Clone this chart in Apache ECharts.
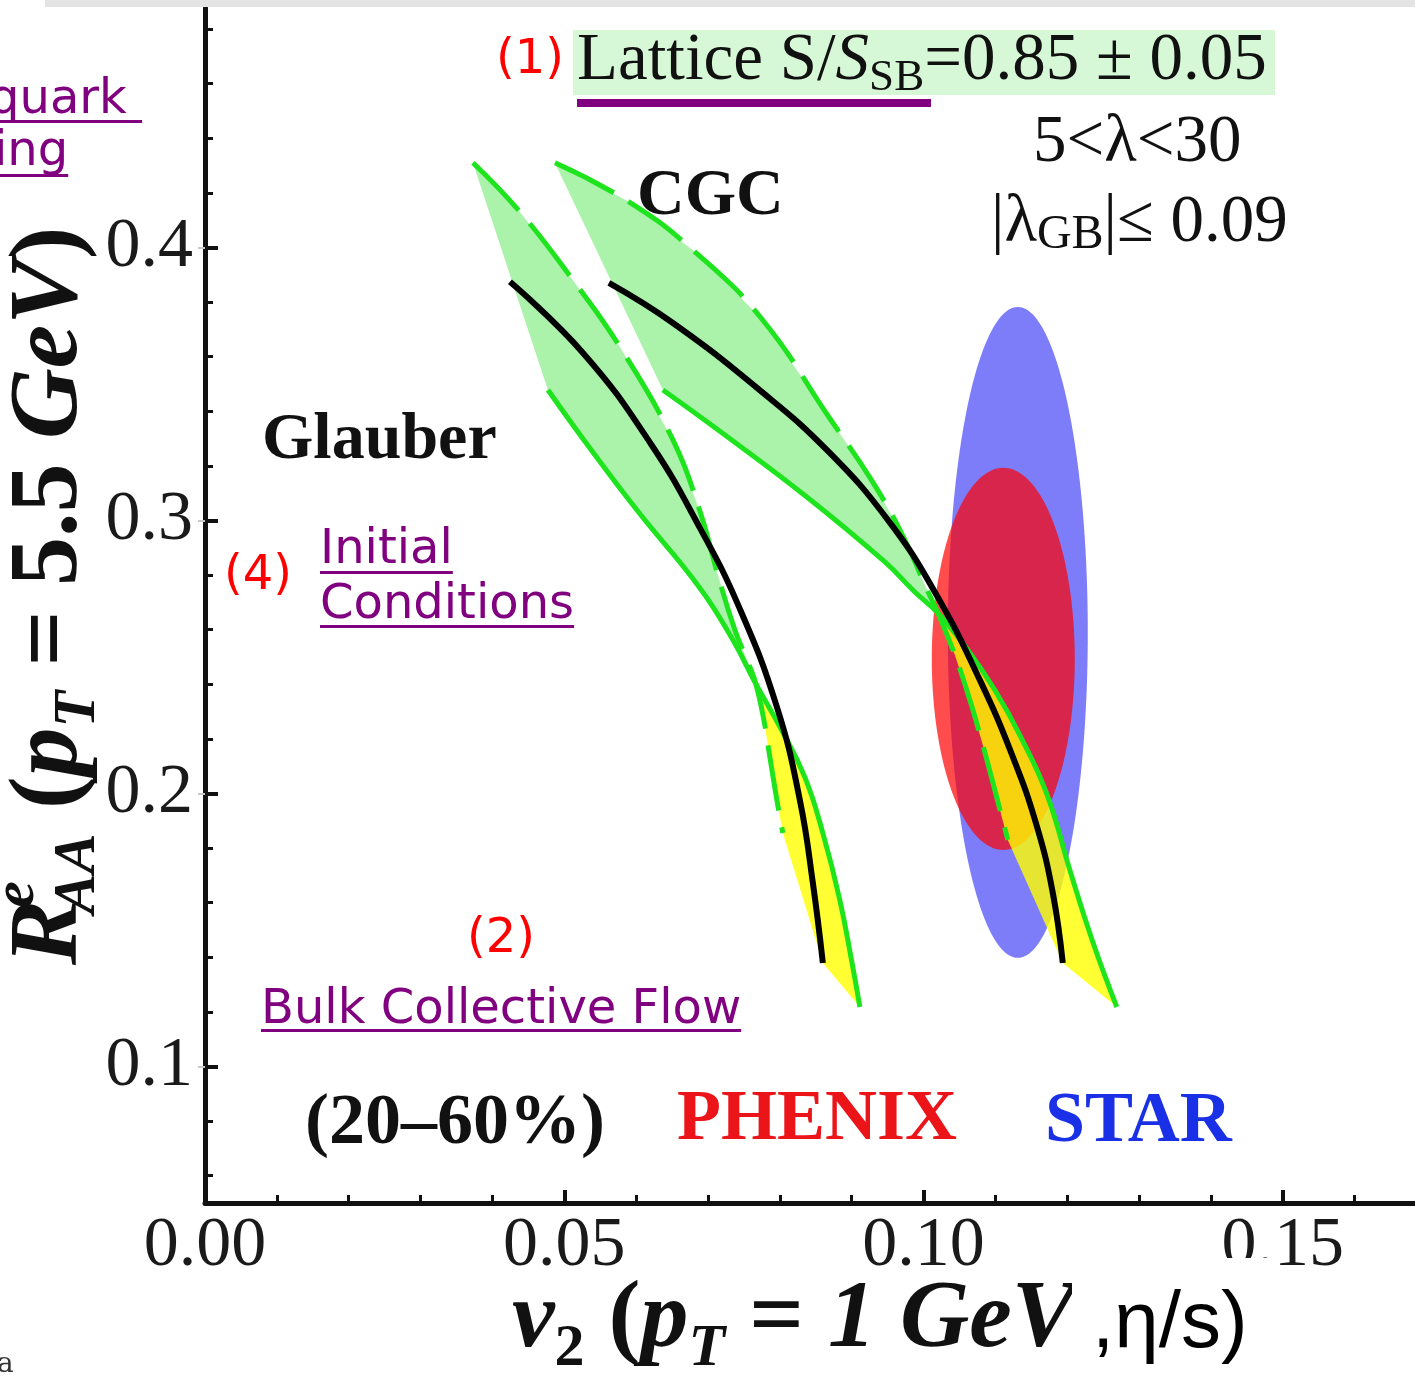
<!DOCTYPE html>
<html><head><meta charset="utf-8">
<script src="https://cdn.jsdelivr.net/npm/echarts@6/dist/echarts.min.js"></script>
<style>html,body{margin:0;padding:0;background:#fff;overflow:hidden}#chart{width:1415px;height:1376px}</style>
</head><body><div id="chart"></div>
<script>
// ---------- axis ranges and ticks ----------
const xRange = [0, 0.1684];
const yRange = [0.05, 0.4877];
const xMajorTicks = [0.00, 0.05, 0.10, 0.15];
const xMinorTicks = [0.01, 0.02, 0.03, 0.04, 0.06, 0.07, 0.08, 0.09, 0.11, 0.12, 0.13, 0.14, 0.16];
const yMajorTicks = [0.1, 0.2, 0.3, 0.4];
const yMinorTicks = [0.06, 0.08, 0.12, 0.14, 0.16, 0.18, 0.22, 0.24, 0.26, 0.28, 0.32, 0.34, 0.36, 0.38, 0.42, 0.44, 0.46, 0.48];

// ---------- model curves: [v2, R_AA] ----------
const glauberCentral = [[0.04244,0.3874],[0.05273,0.3610],[0.06206,0.3280],[0.06887,0.2973],[0.07444,0.2676],[0.07959,0.2317],[0.08279,0.1976],[0.08460,0.1672],[0.08599,0.1379]];
const glauberDashed = [[0.03729,0.4310],[0.04383,0.4130],[0.05120,0.3881],[0.05774,0.3636],[0.06512,0.3295],[0.06887,0.3035],[0.07138,0.2800],[0.07374,0.2599],[0.07555,0.2482],[0.07667,0.2401],[0.07778,0.2269],[0.07861,0.2134],[0.07959,0.1976],[0.08042,0.1855]];
const glauberSolid = [[0.04773,0.3478],[0.05273,0.3295],[0.06011,0.3038],[0.06887,0.2753],[0.07347,0.2562],[0.07667,0.2401],[0.08001,0.2244],[0.08348,0.2060],[0.08599,0.1855],[0.08835,0.1610],[0.09016,0.1364],[0.09114,0.1218]];

const cgcCentral = [[0.05621,0.3870],[0.06512,0.3723],[0.07750,0.3471],[0.08682,0.3251],[0.09503,0.3002],[0.10157,0.2738],[0.10783,0.2416],[0.11243,0.2134],[0.11576,0.1881],[0.11799,0.1636],[0.11938,0.1379]];
const cgcDashed = [[0.04870,0.4310],[0.05900,0.4167],[0.06818,0.3984],[0.07750,0.3738],[0.08682,0.3379],[0.09309,0.3134],[0.09740,0.2929],[0.10018,0.2764],[0.10199,0.2661],[0.10436,0.2507],[0.10644,0.2343],[0.10825,0.2178],[0.10992,0.2013],[0.11173,0.1830]];
const cgcSolid = [[0.06373,0.3478],[0.07138,0.3332],[0.08376,0.3086],[0.09462,0.2848],[0.09879,0.2738],[0.10199,0.2661],[0.10616,0.2526],[0.10992,0.2379],[0.11340,0.2214],[0.11716,0.1998],[0.12036,0.1720],[0.12356,0.1456],[0.12690,0.1218]];

// ---------- data ellipses: [centre v2, centre R_AA, half-width v2, half-height R_AA] ----------
const starEllipse = [0.11312, 0.2590, 0.00974, 0.1192];
const phenixEllipse = [0.11110, 0.2493, 0.00995, 0.0700];

// ---------- helpers ----------
function splitBand(dashed, solid, central) {
  const key = p => p[0] + ',' + p[1];
  const sIdx = new Map(solid.map((p, i) => [key(p), i]));
  let di = -1, si = -1;
  dashed.forEach((p, i) => { if (sIdx.has(key(p))) { di = i; si = sIdx.get(key(p)); } });
  const upper = dashed.slice(0, di + 1).concat(solid.slice(0, si).reverse());
  const lower = dashed.slice(di).concat([central[central.length - 1]], solid.slice(si).reverse());
  return { upper, lower };
}
function polygonSeries(points, color, z) {
  return {
    type: 'custom', z: z, silent: true, clip: false, xAxisIndex: 0, yAxisIndex: 0,
    data: [points[0]],
    renderItem: function (params, api) {
      return { type: 'polygon', shape: { points: points.map(p => api.coord(p)) }, style: { fill: color } };
    }
  };
}
function ellipseSeries(ell, color, z) {
  return {
    type: 'custom', z: z, silent: true, clip: false, xAxisIndex: 0, yAxisIndex: 0,
    data: [ell],
    renderItem: function (params, api) {
      const c = api.coord([api.value(0), api.value(1)]);
      const s = api.size([api.value(2), api.value(3)]);
      const pts = [];
      for (let k = 0; k < 180; k++) {
        const a = k / 180 * Math.PI * 2;
        pts.push([c[0] + s[0] * Math.cos(a), c[1] + s[1] * Math.sin(a)]);
      }
      return { type: 'polygon', shape: { points: pts }, style: { fill: color } };
    }
  };
}
function lineSeries(data, color, width, type, z) {
  return {
    type: 'line', data: data, xAxisIndex: 0, yAxisIndex: 0, z: z, silent: true,
    showSymbol: false, symbol: 'none', smooth: 0.45,
    lineStyle: { color: color, width: width, type: type, cap: 'butt' }
  };
}

const SERIF = "'Liberation Serif'";
const DV = "'DejaVu Sans'";
const ARIAL = "'Liberation Sans'";
const MID = 0.34;
const mctx = document.createElement('canvas').getContext('2d');
function fontOf(r) {
  return (r.italic ? 'italic ' : '') + (r.bold ? 'bold ' : '') + r.size + 'px ' + (r.family || SERIF);
}
function textW(r) { mctx.font = fontOf(r); return mctx.measureText(r.text).width; }
function runs(x0, base, list, color) {
  const els = []; let x = x0;
  list.forEach(r => {
    const f = fontOf(r);
    const w = textW(r);
    const px = (r.at != null) ? r.at : x + (r.dx || 0);
    els.push({
      type: 'text', x: px, y: base + (r.dy || 0) - MID * r.size, z: 100, silent: true,
      style: { text: r.text, font: f, fill: r.color || color || '#111',
        align: 'left', verticalAlign: 'middle', textAlign: 'left', textVerticalAlign: 'middle' }
    });
    if (!r.stack) x = px + w;
  });
  els.end = x;
  return els;
}
function rect(x, y, w, h, fill) {
  return { type: 'rect', z: 100, silent: true, shape: { x: x, y: y, width: w, height: h }, style: { fill: fill } };
}
function linkText(x, base, text, ulOffset) {
  const r = { text: text, size: 48, family: DV, color: '#800080' };
  const w = textW(r);
  return runs(x, base, [r]).concat([rect(x, base + ulOffset, w, 3, '#800080')]);
}

// ---------- build ----------
const gBand = splitBand(glauberDashed, glauberSolid, glauberCentral);
const cBand = splitBand(cgcDashed, cgcSolid, cgcCentral);

const GREEN_FILL = '#abf2ab';
const GREEN = '#1ee41e';
const YELLOW = 'rgba(255,255,0,0.8)';

const series = [
  polygonSeries(gBand.upper, GREEN_FILL, 1),
  polygonSeries(cBand.upper, GREEN_FILL, 1),
  ellipseSeries(starEllipse, 'rgb(125,125,250)', 2),
  ellipseSeries(phenixEllipse, 'rgba(255,0,0,0.7)', 2),
  polygonSeries(gBand.lower, YELLOW, 3),
  polygonSeries(cBand.lower, YELLOW, 3),
  lineSeries(glauberSolid, GREEN, 5, 'solid', 4),
  lineSeries(cgcSolid, GREEN, 5, 'solid', 4),
  lineSeries(glauberDashed, GREEN, 5, [66, 17], 4),
  lineSeries(cgcDashed, GREEN, 5, [66, 17], 4),
  lineSeries(glauberCentral, '#000', 6, 'solid', 5),
  lineSeries(cgcCentral, '#000', 6, 'solid', 5)
];

const g = [];
// top grey strip
g.push(rect(45, 0, 1370, 7, '#e4e4e4'));
// highlighted lattice text
g.push(rect(573, 30, 702, 65, '#d6f8d6'));
g.push(...runs(577, 84, [
  { text: 'Lattice S/', size: 67 },
  { text: 'S', size: 67, italic: true },
  { text: 'SB', size: 45, dy: 9 },
  { text: '=0.85 ± 0.05', size: 67 }
]));
g.push(rect(577, 99, 354, 8, '#800080'));
g.push(...runs(496, 77, [{ text: '(1)', size: 48, family: DV, color: '#ff0000' }]));
// model parameters
g.push(...runs(1033, 166, [{ text: '5<λ<30', size: 67 }]));
g.push(...runs(991, 246, [
  { text: '|λ', size: 67 },
  { text: 'GB', size: 48, dy: 6 },
  { text: '|≤ 0.09', size: 67 }
]));
g.push(...runs(637, 219, [{ text: 'CGC', size: 66, bold: true }]));
g.push(...runs(262, 463, [{ text: 'Glauber', size: 66, bold: true }]));
g.push(...runs(305, 1149, [{ text: '(20–60%)', size: 72, bold: true }]));
g.push(...runs(677, 1145, [{ text: 'PHENIX', size: 72, bold: true, color: '#eb1419' }]));
g.push(...runs(1045, 1147, [{ text: 'STAR', size: 72, bold: true, color: '#1a30e6' }]));
// web-page annotations
g.push(...linkText(-11, 117, 'quark ', 3));
g.push(...linkText(-6, 169, 'ing', 5));
g.push(...runs(224, 593, [{ text: '(4)', size: 48, family: DV, color: '#ff0000' }]));
g.push(...linkText(320, 567, 'Initial', 4));
g.push(...linkText(320, 622, 'Conditions', 3));
g.push(...runs(467, 956, [{ text: '(2)', size: 48, family: DV, color: '#ff0000' }]));
g.push(...linkText(261, 1027, 'Bulk Collective Flow', 2));
g.push(...runs(-3, 1374, [{ text: 'a', size: 28, family: "'DejaVu Serif'", color: '#333' }]));
// x axis title
g.push(...runs(512, 1354, [
  { text: 'v', size: 96, italic: true, bold: true },
  { text: '2', size: 60, bold: true, dy: 16 },
  { text: ' (', size: 96, bold: true },
  { text: 'p', size: 96, italic: true, bold: true },
  { text: 'T', size: 60, italic: true, bold: true, dy: 16 },
  { text: ' = ', size: 96, bold: true },
  { text: '1', size: 96, italic: true, bold: true },
  { text: ' GeV', size: 96, italic: true, bold: true }
]));
g.push(rect(1072, 1258, 200, 118, '#ffffff'));
g.push(...runs(1092, 1352, [{ text: ',η/s)', size: 80, family: ARIAL, color: '#000' }]));
// y axis title (rotated)
const rW = textW({ text: 'R', size: 98, italic: true, bold: true });
const yTitle = runs(0, 0, [
  { text: 'R', size: 98, italic: true, bold: true },
  { text: 'e', size: 60, italic: true, bold: true, dy: -46, at: rW - 8, stack: true },
  { text: 'AA', size: 60, italic: true, bold: true, dy: 15, at: rW - 14 },
  { text: ' (', size: 98, bold: true },
  { text: 'p', size: 98, italic: true, bold: true },
  { text: 'T', size: 60, italic: true, bold: true, dy: 15 },
  { text: ' = 5.5 ', size: 98, bold: true },
  { text: 'GeV', size: 98, italic: true, bold: true },
  { text: ')', size: 98, bold: true }
]);
g.push({ type: 'group', x: 84, y: 965, rotation: Math.PI / 2, z: 100, children: yTitle });

const axisLineStyle = { color: '#111', width: 5 };
const option = {
  animation: false,
  backgroundColor: '#fff',
  grid: { left: 205, top: 8, width: 1210, height: 1195, containLabel: false },
  xAxis: [
    {
      type: 'value', min: xRange[0], max: xRange[1], position: 'bottom',
      axisLine: { show: true, onZero: false, lineStyle: axisLineStyle },
      axisTick: { show: true, inside: true, length: 13, customValues: xMajorTicks, lineStyle: { color: '#111', width: 4 } },
      axisLabel: { show: true, customValues: xMajorTicks, formatter: v => v.toFixed(2), fontFamily: SERIF, fontSize: 70, lineHeight: 70, color: '#1a1a1a', margin: 9 },
      splitLine: { show: false }
    },
    {
      type: 'value', min: xRange[0], max: xRange[1], position: 'bottom',
      axisLine: { show: false },
      axisTick: { show: true, inside: true, length: 8, customValues: xMinorTicks, lineStyle: { color: '#111', width: 3 } },
      axisLabel: { show: false }, splitLine: { show: false }
    }
  ],
  yAxis: [
    {
      type: 'value', min: yRange[0], max: yRange[1], position: 'left',
      axisLine: { show: true, onZero: false, lineStyle: axisLineStyle },
      axisTick: { show: true, inside: true, length: 13, customValues: yMajorTicks, lineStyle: { color: '#111', width: 4 } },
      axisLabel: { show: true, customValues: yMajorTicks, formatter: v => v.toFixed(1), fontFamily: SERIF, fontSize: 70, color: '#1a1a1a', margin: 12 },
      splitLine: { show: false }
    },
    {
      type: 'value', min: yRange[0], max: yRange[1], position: 'left',
      axisLine: { show: false },
      axisTick: { show: true, inside: true, length: 8, customValues: yMinorTicks, lineStyle: { color: '#111', width: 3 } },
      axisLabel: { show: false }, splitLine: { show: false }
    },
    {
      type: 'value', min: yRange[0], max: yRange[1], position: 'right',
      axisLine: { show: false },
      axisTick: { show: true, inside: true, length: 7, customValues: yMajorTicks, lineStyle: { color: '#c8c8c8', width: 2 } },
      axisLabel: { show: false }, splitLine: { show: false }
    }
  ],
  series: series,
  graphic: { elements: g }
};
const chart = echarts.init(document.getElementById('chart'), null, { renderer: 'canvas' });
chart.setOption(option);
</script>
</body></html>
